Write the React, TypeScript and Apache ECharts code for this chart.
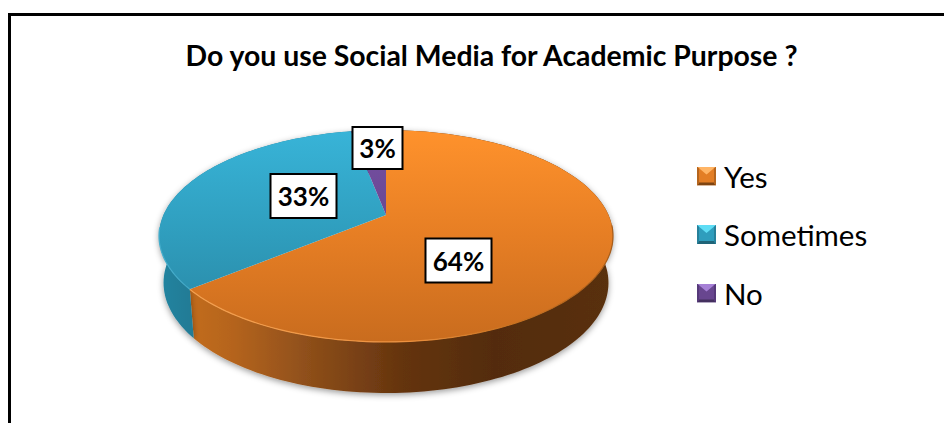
import React, { useEffect, useRef } from "react";
import * as echarts from "echarts";

const categories = ["Yes", "Sometimes", "No"];
const shares = [64, 33, 3];
const chartTitle = "Do you use Social Media for Academic Purpose ?";

const WIDTH = 944;
const HEIGHT = 423;
const FONT = "Lato, 'Noto Sans', sans-serif";

// Disc projection: the hub sits above the middle of the drawn ellipse, as in a tilted view.
const HUB_X = 386;
const HUB_Y = 215;
const SPREAD_X = 222.5;
const SPREAD_Y = 101.8;
const TILT = 0.198;
const RIM_SCALE_X = 0.98;
const RIM_SCALE_Y = 1.04;
const RIM_DROP = 46;

type Pt = [number, number];

const project = (turn: number): Pt => {
  const a = turn * Math.PI * 2;
  const u = Math.sin(a);
  const v = Math.cos(a);
  const w = 1 + TILT * v;
  return [HUB_X + (SPREAD_X * u) / w, HUB_Y - (SPREAD_Y * v) / w];
};

const lower = ([x, y]: Pt): Pt => [
  HUB_X + (x - HUB_X) * RIM_SCALE_X,
  HUB_Y + (y - HUB_Y) * RIM_SCALE_Y + RIM_DROP,
];

const arc = (from: number, to: number): Pt[] => {
  const steps = Math.max(4, Math.ceil((to - from) * 240));
  const out: Pt[] = [];
  for (let i = 0; i <= steps; i++) out.push(project(from + ((to - from) * i) / steps));
  return out;
};

const vertical = (stops: string[]) =>
  new echarts.graphic.LinearGradient(
    0, 130, 0, 342,
    stops.map((color, i) => ({ offset: i / (stops.length - 1), color })),
    true
  );

const horizontal = (x0: number, x1: number, stops: [number, string][]) =>
  new echarts.graphic.LinearGradient(
    x0, 0, x1, 0,
    stops.map(([offset, color]) => ({ offset, color })),
    true
  );

const topFills = [
  vertical(["#FF922C", "#E67E24", "#C96C1E"]),
  vertical(["#38B4D8", "#2F9DBD", "#2884A0"]),
  vertical(["#7650A4", "#68468F", "#5C3E80"]),
];

const sideFills = [
  horizontal(190, 613, [
    [0, "#C26C1E"],
    [0.1, "#B5641C"],
    [0.27, "#90501A"],
    [0.5, "#65340F"],
    [0.72, "#532C0C"],
    [1, "#5A300D"],
  ]),
  horizontal(160, 195, [
    [0, "#2484A0"],
    [1, "#217A94"],
  ]),
  horizontal(350, 386, [
    [0, "#4A3268"],
    [1, "#4A3268"],
  ]),
];

const rimGlints = [
  horizontal(190, 613, [
    [0, "#F3A050"],
    [0.5, "#EE9240"],
    [0.75, "#C9721F"],
    [1, "#A85C18"],
  ]),
  horizontal(160, 195, [
    [0, "#45AFCE"],
    [1, "#3DA3C2"],
  ]),
  horizontal(350, 386, [
    [0, "#7650A4"],
    [1, "#7650A4"],
  ]),
];

// Centres of the white value tags.
const tagCentres: Pt[] = [
  [458.5, 260.5],
  [303.5, 196],
  [377.5, 148],
];
const tagSizes: Pt[] = [
  [66, 44],
  [66, 44],
  [50, 42],
];

const bevelIcon = (light: string, mid: string, dark: string, edge: string) => {
  const svg =
    `<svg xmlns="http://www.w3.org/2000/svg" width="19" height="19" viewBox="0 0 19 19">` +
    `<rect width="19" height="19" fill="${mid}"/>` +
    `<polygon points="0,0 19,0 9.5,8" fill="${light}"/>` +
    `<polygon points="2,16 17,16 19,19 0,19" fill="${dark}"/>` +
    `<polygon points="0,0 2,2 2,17 0,19" fill="${edge}"/>` +
    `<polygon points="19,0 17,2 17,17 19,19" fill="${edge}"/>` +
    `</svg>`;
  return "image://data:image/svg+xml;charset=utf-8," + encodeURIComponent(svg);
};

const legendIcons = [
  bevelIcon("#FFB566", "#E37E25", "#7E4512", "#B5651D"),
  bevelIcon("#5FDDF5", "#2F9DBD", "#1F6478", "#27809A"),
  bevelIcon("#A680D6", "#68468F", "#44305F", "#56397A"),
];

const sliceStart = (index: number) =>
  shares.slice(0, index).reduce((sum, v) => sum + v, 0) / shares.reduce((sum, v) => sum + v, 0);

const renderSlice = (index: number) => (_params: unknown, api: any) => {
  const total = shares.reduce((sum, v) => sum + v, 0);
  const from = sliceStart(index);
  const to = from + api.value(0) / total;
  const top = arc(from, to);
  const under = top.map(lower).reverse();
  const [cx, cy] = tagCentres[index];
  const [tw, th] = tagSizes[index];
  return {
    type: "group",
    children: [
      {
        type: "polygon",
        shape: { points: [...top, ...under] },
        style: {
          fill: sideFills[index],
          shadowBlur: 6,
          shadowColor: "rgba(0,0,0,0.4)",
          shadowOffsetY: 2,
        },
        z2: 1,
      },
      {
        type: "polygon",
        shape: { points: [[HUB_X, HUB_Y], ...top] },
        style: { fill: topFills[index] },
        z2: 10,
      },
      {
        type: "polyline",
        shape: { points: top.filter(([, y]) => y > 225) },
        style: { fill: "none", stroke: rimGlints[index], lineWidth: 1.2 },
        z2: 11,
      },
      {
        type: "rect",
        shape: { x: cx - tw / 2, y: cy - th / 2, width: tw, height: th },
        style: { fill: "#FFFFFF", stroke: "#000000", lineWidth: 2 },
        z2: 20,
      },
      {
        type: "text",
        x: cx,
        y: cy,
        style: {
          text: `${api.value(0)}%`,
          font: `bold 26px ${FONT}`,
          fill: "#000000",
          align: "center",
          verticalAlign: "middle",
        },
        z2: 21,
      },
    ],
  };
};

export default function App() {
  const host = useRef<HTMLDivElement>(null);

  useEffect(() => {
    document.body.style.margin = "0";
    document.body.style.background = "#FFFFFF";
    const chart = echarts.init(host.current!, null, { renderer: "svg" });
    chart.setOption({
      animation: false,
      backgroundColor: "#FFFFFF",
      title: {
        text: chartTitle,
        left: 491.5,
        top: 41,
        padding: 0,
        textAlign: "center",
        textStyle: { fontFamily: FONT, fontSize: 28.4, fontWeight: "bold", color: "#000000" },
      },
      legend: {
        orient: "vertical",
        left: 697,
        top: 161,
        padding: 0,
        itemWidth: 19,
        itemHeight: 19,
        itemGap: 28.5,
        selectedMode: false,
        textStyle: { fontFamily: FONT, fontSize: 29.5, color: "#000000", padding: [0, 0, 0, 3] },
        data: categories.map((name, i) => ({ name, icon: legendIcons[i] })),
      },
      graphic: [
        {
          type: "polyline",
          shape: { points: [[9.5, HEIGHT], [9.5, 14.5], [WIDTH, 14.5]] },
          style: { fill: "none", stroke: "#000000", lineWidth: 3 },
        },
      ],
      series: categories.map((name, i) => ({
        type: "custom",
        name,
        coordinateSystem: "none",
        data: [[shares[i]]],
        itemStyle: { color: ["#E67E24", "#2F9DBD", "#68468F"][i] },
        encode: { value: 0 },
        clip: false,
        z: 2,
        renderItem: renderSlice(i),
      })),
    });
    return () => chart.dispose();
  }, []);

  return <div ref={host} style={{ position: "absolute", left: 0, top: 0, width: WIDTH, height: HEIGHT }} />;
}
